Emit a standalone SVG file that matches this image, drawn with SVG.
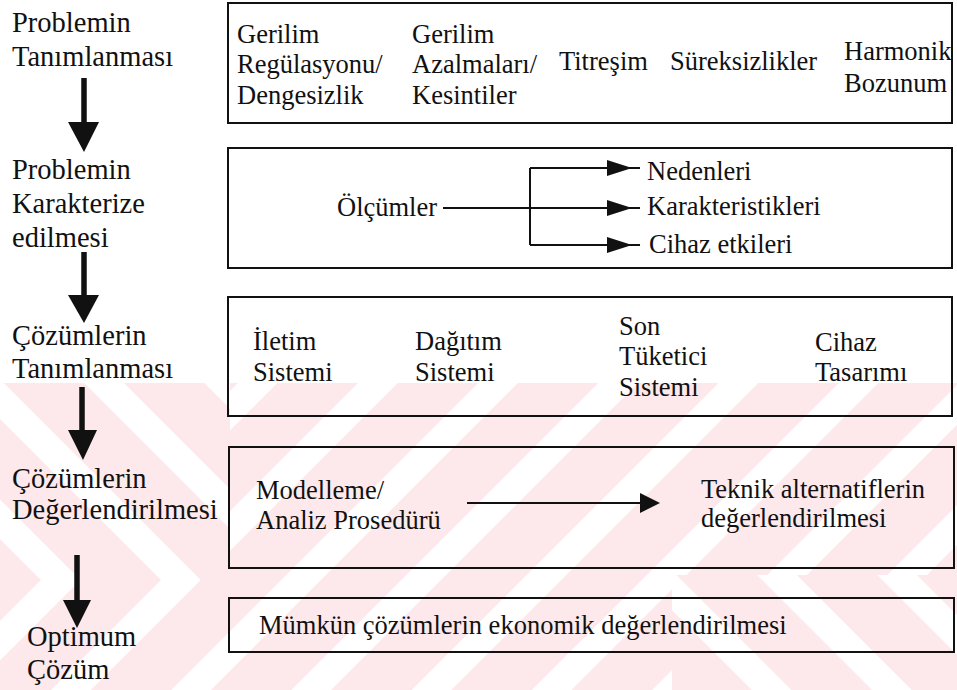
<svg xmlns="http://www.w3.org/2000/svg" width="957" height="690" viewBox="0 0 957 690">
<style>
.lbl{font-family:'Liberation Serif','DejaVu Serif',serif;font-size:28.5px;fill:#111}
.t{font-family:'Liberation Serif','DejaVu Serif',serif;font-size:26.5px;fill:#111}
.box{fill:none;stroke:#111;stroke-width:2}
.ln{stroke:#111;stroke-width:2;fill:none}
.shaft{stroke:#111;stroke-width:5.5}
.head{fill:#111}
</style>
<defs>
<pattern id="s1" patternUnits="userSpaceOnUse" width="85" height="85" patternTransform="rotate(45)">
<rect x="42" y="0" width="43" height="85" fill="#fde9eb"/><rect x="0" y="0" width="14" height="85" fill="#fde9eb"/>
</pattern>
<pattern id="s2" patternUnits="userSpaceOnUse" width="85" height="85" patternTransform="translate(0,1160) scale(1,-1) rotate(45)">
<rect x="42" y="0" width="43" height="85" fill="#fde9eb"/><rect x="0" y="0" width="14" height="85" fill="#fde9eb"/>
</pattern>
</defs>
<rect width="957" height="690" fill="#fff"/>
<g id="watermark">
<path fill="url(#s1)" d="M230 383H672V690H230Z M672 383H957V575H672Z M0 580H230V690H0Z"/>
<path fill="url(#s2)" d="M0 383H230V580H0Z M672 575H957V690H672Z"/>
</g>
<g id="connectors">
<line class="shaft" x1="84" y1="78" x2="84" y2="124"/><polygon class="head" points="68,122 99,122 84,152"/>
<line class="shaft" x1="84" y1="252" x2="84" y2="297"/><polygon class="head" points="68,295 99,295 84,323"/>
<line class="shaft" x1="82" y1="387" x2="82" y2="432"/><polygon class="head" points="68,430 97,430 83,460"/>
<line class="shaft" x1="77" y1="555" x2="77" y2="602"/><polygon class="head" points="63,600 91,600 77,628"/>
<line class="ln" x1="443" y1="208" x2="640" y2="208"/>
<line class="ln" x1="530" y1="168" x2="530" y2="245"/>
<line class="ln" x1="530" y1="168" x2="640" y2="168"/>
<line class="ln" x1="530" y1="245" x2="640" y2="245"/>
<polygon class="head" points="607,160 632,168 607,176"/>
<polygon class="head" points="607,200 632,208 607,216"/>
<polygon class="head" points="607,237 632,245 607,253"/>
<line class="ln" x1="467" y1="503" x2="645" y2="503"/>
<polygon class="head" points="640,493 660,503 640,513"/>
</g>
<g font-family="Liberation Serif, DejaVu Serif, serif">
<g id="step1"><text class="lbl" x="12" y="32">Problemin</text><text class="lbl" x="12" y="66">Tanımlanması</text></g>
<g id="step2"><text class="lbl" x="12" y="179">Problemin</text><text class="lbl" x="12" y="213">Karakterize</text><text class="lbl" x="12" y="247">edilmesi</text></g>
<g id="step3"><text class="lbl" x="12" y="345">Çözümlerin</text><text class="lbl" x="12" y="378">Tanımlanması</text></g>
<g id="step4"><text class="lbl" x="12" y="488">Çözümlerin</text><text class="lbl" x="12" y="519">Değerlendirilmesi</text></g>
<g id="step5"><text class="lbl" x="27" y="646">Optimum</text><text class="lbl" x="27" y="679">Çözüm</text></g>
<g id="box1">
<rect class="box" x="228" y="3" width="724" height="120"/>
<text class="t" x="237" y="43">Gerilim</text><text class="t" x="237" y="73">Regülasyonu/</text><text class="t" x="237" y="104">Dengesizlik</text>
<text class="t" x="412" y="43">Gerilim</text><text class="t" x="412" y="73">Azalmaları/</text><text class="t" x="412" y="104">Kesintiler</text>
<text class="t" x="559" y="70">Titreşim</text>
<text class="t" x="670" y="70">Süreksizlikler</text>
<text class="t" x="844" y="60">Harmonik</text><text class="t" x="844" y="92">Bozunum</text>
</g>
<g id="box2">
<rect class="box" x="228" y="148" width="724" height="120"/>
<text class="t" x="337" y="216">Ölçümler</text>
<text class="t" x="647" y="180">Nedenleri</text>
<text class="t" x="647" y="215">Karakteristikleri</text>
<text class="t" x="649" y="253">Cihaz etkileri</text>
</g>
<g id="box3">
<rect class="box" x="228" y="297" width="724" height="119"/>
<text class="t" x="253" y="350">İletim</text><text class="t" x="253" y="381">Sistemi</text>
<text class="t" x="415" y="350">Dağıtım</text><text class="t" x="415" y="381">Sistemi</text>
<text class="t" x="619" y="335">Son</text><text class="t" x="619" y="365">Tüketici</text><text class="t" x="619" y="396">Sistemi</text>
<text class="t" x="815" y="351">Cihaz</text><text class="t" x="815" y="381">Tasarımı</text>
</g>
<g id="box4">
<rect class="box" x="229" y="447" width="725" height="121"/>
<text class="t" x="256" y="499">Modelleme/</text><text class="t" x="256" y="529">Analiz Prosedürü</text>
<text class="t" x="701" y="498">Teknik alternatiflerin</text><text class="t" x="701" y="527">değerlendirilmesi</text>
</g>
<g id="box5">
<rect class="box" x="229" y="598" width="725" height="54"/>
<text class="t" x="259" y="634">Mümkün çözümlerin ekonomik değerlendirilmesi</text>
</g>
</g>
</svg>
